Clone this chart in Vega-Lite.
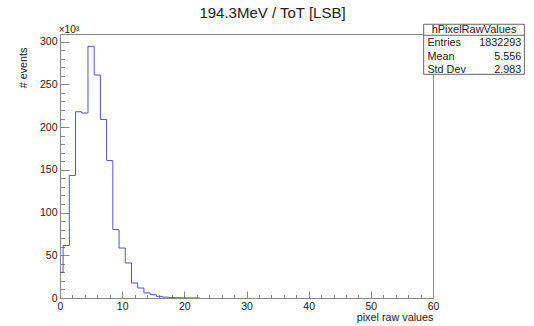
{
  "$schema": "https://vega.github.io/schema/vega-lite/v6.json",
  "width": 373,
  "height": 264,
  "autosize": {"type": "none"},
  "padding": {"left": 60, "top": 34, "right": 101, "bottom": 28},
  "background": "white",
  "title": {
    "text": "194.3MeV / ToT [LSB]",
    "font": "Liberation Sans",
    "fontSize": 15,
    "fontWeight": "normal",
    "color": "#222",
    "anchor": "middle",
    "dx": 26,
    "offset": 3
  },
  "config": {
    "view": {"stroke": null},
    "axis": {
      "grid": false,
      "domainColor": "#888",
      "tickColor": "#888",
      "labelColor": "#222",
      "labelFont": "Liberation Sans",
      "labelFontSize": 10.5,
      "titleFont": "Liberation Sans",
      "titleFontSize": 10.8,
      "titleFontWeight": "normal",
      "titleColor": "#222",
      "labelFlush": false,
      "labelOverlap": false
    }
  },
  "datasets": {
    "hist": [
      {"lo": -0.5, "count": 30},
      {"lo": 0.5, "count": 61.5},
      {"lo": 1.5, "count": 143.5},
      {"lo": 2.5, "count": 218},
      {"lo": 3.5, "count": 216.5},
      {"lo": 4.5, "count": 294.6},
      {"lo": 5.5, "count": 261},
      {"lo": 6.5, "count": 209},
      {"lo": 7.5, "count": 161},
      {"lo": 8.5, "count": 80},
      {"lo": 9.5, "count": 58.5},
      {"lo": 10.5, "count": 41},
      {"lo": 11.5, "count": 17.6},
      {"lo": 12.5, "count": 11.7},
      {"lo": 13.5, "count": 5.9},
      {"lo": 14.5, "count": 3.9},
      {"lo": 15.5, "count": 1.9},
      {"lo": 16.5, "count": 1.0},
      {"lo": 17.5, "count": 0.5},
      {"lo": 18.5, "count": 0.3},
      {"lo": 19.5, "count": 0.2},
      {"lo": 20.5, "count": 0.1},
      {"lo": 21.5, "count": 0.05},
      {"lo": 22.5, "count": 0}
    ],
    "stats": [
      {"name": "hPixelRawValues", "labels": "Entries\nMean\nStd Dev", "values": "1832293\n5.556\n2.983", "exp": "×10³"}
    ]
  },
  "resolve": {"axis": {"x": "independent", "y": "independent"}},
  "layer": [
    {
      "data": {"name": "hist"},
      "mark": {"type": "point", "opacity": 0},
      "encoding": {
        "x": {
          "field": "lo", "type": "quantitative",
          "scale": {"domain": [0, 60], "nice": false, "zero": false},
          "axis": {"orient": "top", "ticks": false, "labels": false, "domain": true, "title": null, "zindex": 0}
        },
        "y": {
          "field": "count", "type": "quantitative",
          "scale": {"domain": [0, 309], "nice": false},
          "axis": {"orient": "right", "ticks": false, "labels": false, "domain": true, "title": null, "zindex": 0}
        }
      }
    },
    {
      "data": {"name": "hist"},
      "mark": {"type": "line", "interpolate": "step-after", "color": "#5252d0", "strokeWidth": 1, "clip": true},
      "encoding": {
        "x": {
          "field": "lo", "type": "quantitative",
          "scale": {"domain": [0, 60], "nice": false, "zero": false},
          "axis": {
            "orient": "bottom",
            "values": [0, 10, 20, 30, 40, 50, 60],
            "tickSize": -7,
            "labelPadding": 10,
            "title": "pixel raw values",
            "titleX": 373,
            "titleY": 22,
            "titleAlign": "right",
            "titleBaseline": "alphabetic"
          }
        },
        "y": {
          "field": "count", "type": "quantitative",
          "scale": {"domain": [0, 309], "nice": false},
          "axis": {
            "orient": "left",
            "values": [0, 50, 100, 150, 200, 250, 300],
            "tickSize": -9,
            "labelPadding": 12,
            "title": "# events",
            "titleX": -37,
            "titleY": 13,
            "titleAngle": 270,
            "titleAlign": "right",
            "titleBaseline": "middle"
          }
        }
      }
    },
    {
      "data": {"name": "hist"},
      "mark": {"type": "point", "opacity": 0},
      "encoding": {
        "x": {
          "field": "lo", "type": "quantitative",
          "scale": {"domain": [0, 60], "nice": false, "zero": false},
          "axis": {
            "orient": "bottom",
            "values": [2, 4, 6, 8, 12, 14, 16, 18, 22, 24, 26, 28, 32, 34, 36, 38, 42, 44, 46, 48, 52, 54, 56, 58],
            "tickSize": -3.5,
            "labels": false,
            "domain": false,
            "title": null
          }
        },
        "y": {
          "field": "count", "type": "quantitative",
          "scale": {"domain": [0, 309], "nice": false},
          "axis": {
            "orient": "left",
            "values": [10, 20, 30, 40, 60, 70, 80, 90, 110, 120, 130, 140, 160, 170, 180, 190, 210, 220, 230, 240, 260, 270, 280, 290],
            "tickSize": -4.5,
            "labels": false,
            "domain": false,
            "title": null
          }
        }
      }
    },
    {
      "data": {"name": "stats"},
      "mark": {"type": "rect", "fill": "white", "stroke": "#666", "strokeWidth": 1},
      "encoding": {
        "x": {"datum": 58.5, "type": "quantitative", "axis": null},
        "x2": {"datum": 74.7},
        "y": {"datum": 261.8, "type": "quantitative", "axis": null},
        "y2": {"datum": 320.4}
      }
    },
    {
      "data": {"name": "stats"},
      "mark": {"type": "rule", "stroke": "#666", "strokeWidth": 1},
      "encoding": {
        "x": {"datum": 58.5, "type": "quantitative", "axis": null},
        "x2": {"datum": 74.7},
        "y": {"datum": 307.5, "type": "quantitative", "axis": null}
      }
    },
    {
      "data": {"name": "stats"},
      "mark": {"type": "text", "align": "center", "baseline": "middle", "font": "Liberation Sans", "fontSize": 11, "color": "#222"},
      "encoding": {
        "x": {"datum": 66.6, "type": "quantitative", "axis": null},
        "y": {"datum": 313.8, "type": "quantitative", "axis": null},
        "text": {"field": "name"}
      }
    },
    {
      "data": {"name": "stats"},
      "mark": {"type": "text", "align": "left", "baseline": "middle", "lineBreak": "\n", "lineHeight": 13.4, "font": "Liberation Sans", "fontSize": 10.8, "color": "#222"},
      "encoding": {
        "x": {"datum": 59.1, "type": "quantitative", "axis": null},
        "y": {"datum": 298.3, "type": "quantitative", "axis": null},
        "text": {"field": "labels"}
      }
    },
    {
      "data": {"name": "stats"},
      "mark": {"type": "text", "align": "right", "baseline": "middle", "lineBreak": "\n", "lineHeight": 13.4, "font": "Liberation Sans", "fontSize": 10.8, "color": "#222"},
      "encoding": {
        "x": {"datum": 74.2, "type": "quantitative", "axis": null},
        "y": {"datum": 298.3, "type": "quantitative", "axis": null},
        "text": {"field": "values"}
      }
    },
    {
      "data": {"name": "stats"},
      "mark": {"type": "text", "align": "left", "baseline": "alphabetic", "dy": -1.5, "font": "Liberation Sans", "fontSize": 10, "color": "#222"},
      "encoding": {
        "x": {"datum": -0.2, "type": "quantitative", "axis": null},
        "y": {"datum": 309, "type": "quantitative", "axis": null},
        "text": {"field": "exp"}
      }
    }
  ]
}
